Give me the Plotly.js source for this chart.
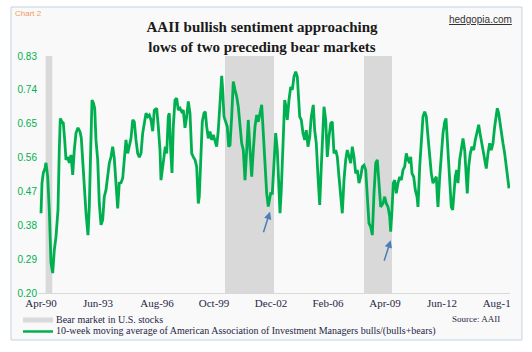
<!DOCTYPE html>
<html>
<head>
<meta charset="utf-8">
<script src="https://cdn.plot.ly/plotly-3.0.1.min.js"></script>
<style>html,body{margin:0;padding:0;background:#fff;}#chart{width:532px;height:352px;}</style>
</head>
<body>
<div id="chart"></div>
<script>
// Time in decimal years, 10-week moving average of bulls/(bulls+bears)
const years = [
1990.229,1990.283,1990.353,1990.446,1990.500,1990.592,1990.679,1990.771,1990.864,1990.951,
1991.043,1991.151,1991.222,1991.276,1991.369,1991.439,1991.515,1991.586,1991.678,1991.765,
1991.857,1991.950,1992.036,1992.129,1992.237,1992.346,1992.416,1992.492,1992.579,1992.672,
1992.780,1992.851,1992.927,1992.997,1993.068,1993.144,1993.214,1993.307,1993.394,1993.486,
1993.578,1993.665,1993.757,1993.850,1993.937,1994.029,1994.121,1994.208,1994.300,1994.393,
1994.479,1994.572,1994.664,1994.751,1994.843,1994.935,1995.022,1995.115,1995.207,1995.294,
1995.386,1995.478,1995.565,1995.657,1995.750,1995.837,1995.929,1996.021,1996.108,1996.200,
1996.293,1996.379,1996.510,1996.597,1996.689,1996.743,1996.836,1996.906,1996.977,1997.053,
1997.140,1997.194,1997.270,1997.340,1997.411,1997.503,1997.596,1997.682,1997.775,1997.867,
1997.954,1998.046,1998.138,1998.225,1998.318,1998.410,1998.497,1998.589,1998.681,1998.768,
1998.822,1998.899,1998.985,1999.078,1999.148,1999.224,1999.311,1999.403,1999.496,1999.583,
1999.675,1999.767,1999.854,1999.946,2000.039,2000.093,2000.163,2000.256,2000.343,2000.419,
2000.489,2000.581,2000.668,2000.761,2000.853,2000.940,2001.032,2001.124,2001.211,2001.303,
2001.396,2001.482,2001.575,2001.667,2001.754,2001.846,2001.939,2002.025,2002.118,2002.210,
2002.297,2002.389,2002.481,2002.568,2002.699,2002.786,2002.878,2002.970,2003.057,2003.149,
2003.204,2003.274,2003.383,2003.459,2003.529,2003.600,2003.692,2003.785,2003.872,2003.964,
2004.056,2004.143,2004.197,2004.273,2004.360,2004.452,2004.545,2004.631,2004.724,2004.816,
2004.903,2005.011,2005.087,2005.174,2005.267,2005.359,2005.446,2005.538,2005.592,2005.685,
2005.771,2005.864,2005.956,2006.043,2006.135,2006.227,2006.314,2006.407,2006.499,2006.586,
2006.678,2006.770,2006.857,2006.950,2007.042,2007.129,2007.221,2007.313,2007.400,2007.492,
2007.585,2007.672,2007.764,2007.856,2007.943,2008.035,2008.128,2008.215,2008.307,2008.399,
2008.486,2008.578,2008.671,2008.795,2008.888,2008.975,2009.067,2009.159,2009.213,2009.284,
2009.354,2009.430,2009.517,2009.610,2009.702,2009.789,2009.881,2009.973,2010.060,2010.153,
2010.245,2010.299,2010.370,2010.462,2010.549,2010.641,2010.695,2010.788,2010.875,2010.967,
2011.059,2011.146,2011.239,2011.331,2011.418,2011.510,2011.602,2011.689,2011.743,2011.781,
2011.874,2011.961,2012.053,2012.145,2012.216,2012.286,2012.362,2012.432,2012.503,2012.579,
2012.649,2012.720,2012.796,2012.866,2012.958,2013.045,2013.138,2013.230,2013.317,2013.371,
2013.447,2013.535,2013.626,2013.718,2013.805,2013.914,2013.990,2014.061,2014.131,2014.223,
2014.316,2014.403,2014.495,2014.587,2014.674,2014.766,2014.858,2014.945,2015.000,2015.076,
2015.147,2015.217,2015.309,2015.401,2015.488,2015.580,2015.635
];
const bullRatio = [
0.412,0.492,0.519,0.532,0.546,0.509,0.421,0.280,0.253,0.314,
0.350,0.421,0.580,0.664,0.655,0.652,0.607,0.554,0.562,0.546,
0.567,0.514,0.580,0.625,0.639,0.629,0.612,0.554,0.474,0.413,
0.354,0.429,0.580,0.713,0.706,0.691,0.607,0.554,0.438,0.381,
0.394,0.456,0.474,0.505,0.545,0.562,0.589,0.558,0.483,0.425,
0.492,0.493,0.505,0.562,0.607,0.571,0.589,0.611,0.660,0.655,
0.607,0.571,0.561,0.571,0.625,0.649,0.678,0.669,0.673,0.660,
0.630,0.686,0.691,0.642,0.580,0.500,0.546,0.562,0.589,0.571,
0.669,0.678,0.580,0.519,0.642,0.713,0.718,0.686,0.691,0.682,
0.686,0.639,0.669,0.709,0.678,0.571,0.562,0.554,0.536,0.438,
0.456,0.580,0.655,0.678,0.682,0.642,0.611,0.629,0.607,0.620,
0.602,0.589,0.633,0.704,0.777,0.740,0.669,0.655,0.642,0.589,
0.593,0.669,0.762,0.740,0.722,0.695,0.642,0.598,0.580,0.500,
0.580,0.660,0.580,0.509,0.580,0.642,0.673,0.655,0.678,0.700,
0.625,0.536,0.465,0.430,0.465,0.465,0.554,0.625,0.580,0.456,
0.412,0.474,0.615,0.713,0.695,0.660,0.713,0.748,0.740,0.775,
0.788,0.775,0.731,0.669,0.660,0.625,0.607,0.633,0.589,0.615,
0.669,0.700,0.633,0.598,0.509,0.434,0.536,0.625,0.695,0.660,
0.562,0.615,0.651,0.655,0.571,0.580,0.562,0.509,0.456,0.412,
0.500,0.554,0.580,0.562,0.545,0.589,0.562,0.518,0.527,0.492,
0.509,0.536,0.540,0.527,0.447,0.385,0.376,0.354,0.465,0.545,
0.554,0.492,0.429,0.438,0.456,0.438,0.429,0.403,0.363,0.421,
0.492,0.500,0.465,0.492,0.509,0.500,0.527,0.536,0.571,0.554,
0.545,0.562,0.518,0.509,0.474,0.456,0.429,0.536,0.607,0.669,
0.682,0.669,0.615,0.562,0.518,0.492,0.500,0.509,0.456,0.429,
0.509,0.580,0.625,0.655,0.664,0.607,0.536,0.474,0.429,0.421,
0.474,0.509,0.527,0.492,0.554,0.589,0.611,0.580,0.509,0.465,
0.536,0.571,0.589,0.580,0.607,0.633,0.647,0.625,0.607,0.580,
0.554,0.531,0.571,0.598,0.580,0.598,0.642,0.682,0.691,0.678,
0.651,0.625,0.598,0.571,0.536,0.492,0.478
];
// Bear markets in U.S. stocks (decimal years)
const bearStart = [1990.480, 2000.218, 2007.764];
const bearEnd   = [1990.842, 2002.878, 2009.284];
// Axis ticks
const xTickPos  = [1990.229, 1993.323, 1996.526, 1999.621, 2002.715, 2005.810, 2008.904, 2011.998, 2014.968];
const xTickText = ['Apr-90','Jun-93','Aug-96','Oct-99','Dec-02','Feb-06','Apr-09','Jun-12','Aug-1'];
const yTicks    = [0.20, 0.29, 0.38, 0.47, 0.56, 0.65, 0.74, 0.83];
// Arrows pointing at the lows
const arrowX = [2002.661, 2009.213];
const arrowY = [0.416, 0.340];

const serif = 'Liberation Serif, Times New Roman, serif';
const sans = 'Liberation Sans, Arial, sans-serif';
const navy = '#1f2745';

const shapes = [];
// chart frame
shapes.push({type:'rect', xref:'paper', yref:'paper', x0:-0.0572, x1:1.0254, y0:-0.1983, y1:1.2068,
  fillcolor:'#f9f9f9', line:{color:'#c5d2e0', width:1}, layer:'below'});
for (let i = 0; i < bearStart.length; i++) {
  shapes.push({type:'rect', xref:'x', yref:'paper', x0:bearStart[i], x1:bearEnd[i], y0:0, y1:1,
    fillcolor:'#d9d9d9', line:{width:0}, layer:'below'});
}
// manual legend swatches
shapes.push({type:'rect', xref:'paper', yref:'paper', x0:-0.0318, x1:0.0318, y0:-0.1245, y1:-0.1034,
  fillcolor:'#d9d9d9', line:{width:0}});
shapes.push({type:'line', xref:'paper', yref:'paper', x0:-0.0318, x1:0.0318, y0:-0.1624, y1:-0.1624,
  line:{color:'#00b050', width:2.5}});

const annotations = [
  {xref:'paper', yref:'paper', x:-0.053, y:1.1814, xanchor:'left', yanchor:'middle', showarrow:false,
   text:'Chart 2', font:{family:sans, size:8, color:'#f29a60'}},
  {xref:'paper', yref:'paper', x:1.0085, y:1.1561, xanchor:'right', yanchor:'middle', showarrow:false,
   text:'<u>hedgopia.com</u>', font:{family:sans, size:10, color:'#333333'}},
  {xref:'paper', yref:'paper', x:0.983, y:-0.1097, xanchor:'right', yanchor:'middle', showarrow:false,
   text:'Source: AAII', font:{family:serif, size:9, color:navy}},
  {xref:'paper', yref:'paper', x:0.0339, y:-0.1139, xanchor:'left', yanchor:'middle', showarrow:false,
   text:'Bear market in U.S. stocks', font:{family:serif, size:10, color:navy}},
  {xref:'paper', yref:'paper', x:0.0339, y:-0.1603, xanchor:'left', yanchor:'middle', showarrow:false,
   text:'10-week moving average of American Association of Investment Managers bulls/(bulls+bears)',
   font:{family:serif, size:10, color:navy}}
];
for (let i = 0; i < arrowX.length; i++) {
  annotations.push({x:arrowX[i], y:arrowY[i], xref:'x', yref:'y', text:'', showarrow:true,
    ax:-7, ay:22, arrowhead:2, arrowsize:1, arrowwidth:1.5, arrowcolor:'#4a7ebb'});
}

const trace = {
  x: years, y: bullRatio, type:'scatter', mode:'lines',
  line:{color:'#00b050', width:2.8},
  name:'10-week moving average of American Association of Investment Managers bulls/(bulls+bears)',
  hoverinfo:'skip'
};

const layout = {
  width:532, height:352,
  margin:{l:38, r:22, t:56, b:59, pad:0},
  paper_bgcolor:'#ffffff',
  plot_bgcolor:'#fcfcea',
  showlegend:false,
  title:{text:'<b>AAII bullish sentiment approaching</b><br><b>lows of two preceding bear markets</b>',
    x:0.4925, xref:'container', xanchor:'center', y:0.9077, yref:'container', yanchor:'middle',
    font:{family:serif, size:15, color:'#1a1a1a'}},
  xaxis:{range:[1990.066, 2015.690], tickmode:'array', tickvals:xTickPos, ticktext:xTickText,
    showgrid:false, zeroline:false, showline:true, linecolor:'#d9d9d9', linewidth:1, ticks:'',
    tickfont:{family:serif, size:11, color:navy}, fixedrange:true},
  yaxis:{range:[0.20, 0.83], tickmode:'array', tickvals:yTicks, tickformat:'.2f',
    showgrid:false, zeroline:false, showline:false, ticks:'',
    tickfont:{family:sans, size:10, color:'#00b050'}, fixedrange:true},
  shapes:shapes,
  annotations:annotations
};

Plotly.newPlot('chart', [trace], layout, {displayModeBar:false, staticPlot:true});
</script>
</body>
</html>
